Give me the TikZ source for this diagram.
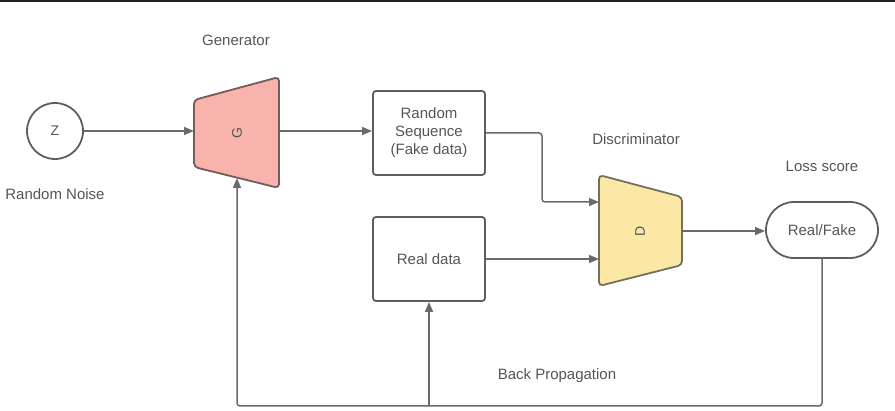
\documentclass[tikz,border=0pt]{standalone}
\usepackage{fontspec}
\setmainfont{Liberation Sans}
\usetikzlibrary{arrows.meta}
\definecolor{linegray}{HTML}{6A6A6A}
\definecolor{boxgray}{HTML}{5E5E5E}
\definecolor{txtgray}{HTML}{555555}
\definecolor{gfill}{HTML}{F8B4AC}
\definecolor{gdraw}{HTML}{735C5A}
\definecolor{dfill}{HTML}{FCE8A6}
\definecolor{ddraw}{HTML}{75705C}
\definecolor{topline}{HTML}{222222}
\tikzset{
  conn/.style={draw=linegray, line width=1.5pt},
  arr/.style={conn, -{Triangle[length=10pt,width=8pt]}},
  lbl/.style={text=txtgray, font=\fontsize{15}{18}\selectfont},
  box/.style={draw=boxgray, line width=1.8pt, rounded corners=3pt, minimum width=112pt, minimum height=84pt, align=center, text=txtgray, font=\fontsize{15}{18}\selectfont},
  pill/.style={draw=boxgray, line width=1.8pt, rounded corners=28pt, minimum width=112pt, minimum height=56pt, text=txtgray, font=\fontsize{15}{18}\selectfont},
  shapelbl/.style={rotate=90, text=txtgray, font=\fontsize{14}{16}\selectfont}
}
\begin{document}
\begin{tikzpicture}[x=1pt,y=-1pt]
\useasboundingbox (0,0) rectangle (895,411);
\draw[topline, line width=2pt] (0,1) -- (895,1);

% noise
\node[circle, draw=boxgray, line width=1.8pt, minimum size=56pt, inner sep=0pt, text=txtgray, font=\fontsize{14}{16}\selectfont] (z) at (55,131) {Z};
\node[lbl] (rn) at (55,194) {Random Noise};

% generator
\draw[draw=gdraw, fill=gfill, line width=1.8pt, rounded corners=4pt] (194,100) -- (279,77) -- (279,188) -- (194,167) -- cycle;
\node[shapelbl] (g) at (237,133) {G};
\coordinate (gin) at (194,131);
\coordinate (gout) at (279,131);
\coordinate (gbot) at (237,178);
\node[lbl] (gen) at (236,40) {Generator};

% boxes
\node[box] (rs) at (429,133) {Random\\Sequence\\(Fake data)};
\node[box] (rd) at (429,259) {Real data};

% discriminator
\draw[draw=ddraw, fill=dfill, line width=1.8pt, rounded corners=4pt] (599,175) -- (682,197) -- (682,265) -- (599,286) -- cycle;
\node[shapelbl] (d) at (640,231) {D};
\coordinate (din1) at (599,202);
\coordinate (din2) at (599,259);
\coordinate (dout) at (682,231);
\node[lbl] (disc) at (636,139) {Discriminator};

% loss
\node[pill] (rf) at (822,230) {Real/Fake};
\node[lbl] (loss) at (822,166) {Loss score};

% connectors
\draw[arr] (z) -- (gin);
\draw[arr] (gout) -- (gout -| rs.west);
\coordinate (bend) at (542,202);
\draw[arr, rounded corners=3pt] (rs.east) -| (bend) -- (din1);
\draw[arr] (rd.east) -- (din2);
\draw[arr] (dout) -- (dout -| rf.west);
\coordinate (bl) at (237,406);
\draw[arr, rounded corners=3pt] (rf.south) |- (bl) -- (gbot);
\coordinate (br) at (429,406);
\draw[arr] (br) -- (rd.south);
\node[lbl] (bp) at (557,376) {Back Propagation};
\end{tikzpicture}
\end{document}
